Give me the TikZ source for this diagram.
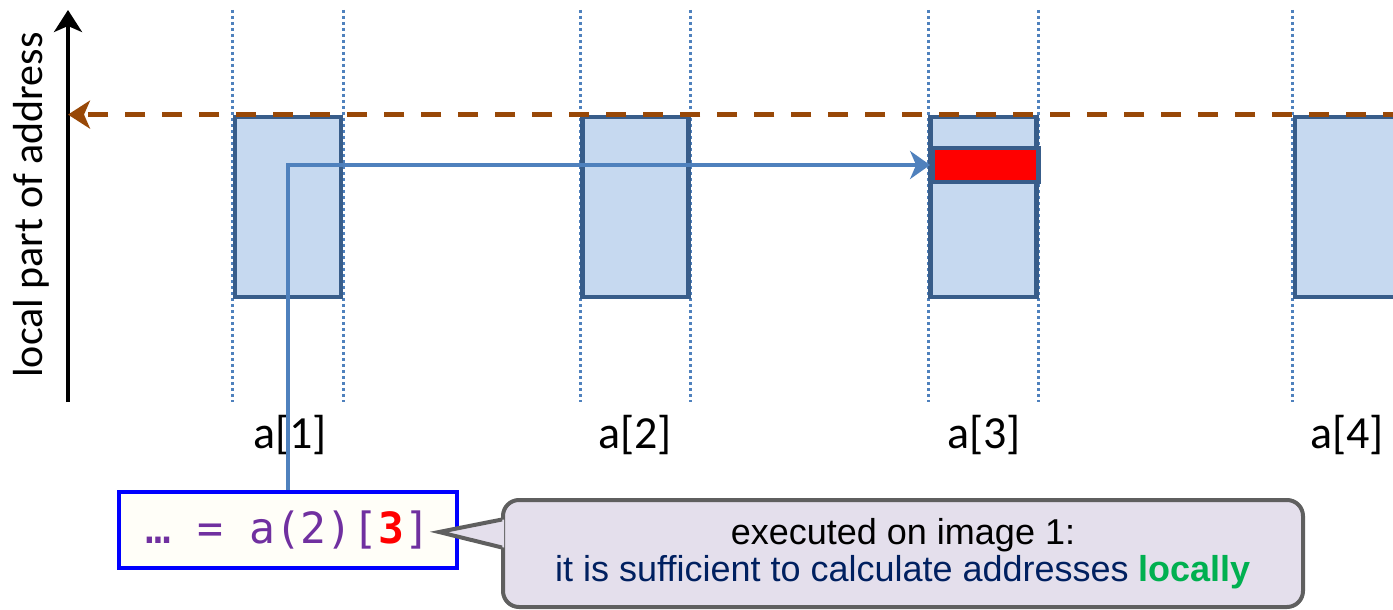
\documentclass[tikz,border=0pt]{standalone}
\usepackage{fontspec}
\setmainfont{Carlito}
\newfontfamily\codefont{DejaVu Sans Mono}
\newfontfamily\notefont{Liberation Sans}
\usepackage{xcolor}
\usepackage{tikz}
\usetikzlibrary{arrows.meta, positioning, calc, backgrounds}
\definecolor{cellfill}{RGB}{198, 217, 240}
\definecolor{cellborder}{RGB}{56, 93, 138}
\definecolor{linkblue}{RGB}{79, 129, 189}
\definecolor{levelbrown}{RGB}{152, 72, 7}
\definecolor{notefill}{RGB}{228, 223, 236}
\definecolor{notegray}{RGB}{95, 95, 95}
\definecolor{codepurple}{RGB}{112, 48, 160}
\definecolor{codebg}{RGB}{255, 254, 248}
\definecolor{navytext}{RGB}{0, 32, 96}
\definecolor{okgreen}{RGB}{0, 176, 80}

\begin{document}
\begin{tikzpicture}[x=0.5pt, y=-0.5pt]
    \tikzstyle{cell} = [rectangle, minimum width=53pt, minimum height=90pt, inner sep=0pt, draw=cellborder, line width=2.4pt, fill=cellfill]
    \tikzstyle{guide} = [linkblue, line width=1.5pt, dash pattern=on 1.5pt off 1.5pt]
    \tikzstyle{lbl} = [anchor=base, inner sep=0pt, font=\fontsize{23}{27}\selectfont]
    \tikzstyle{link} = [linkblue, line width=2pt, -{Stealth[length=10pt, width=14pt, inset=3pt]}]

    \useasboundingbox (0,0) rectangle (1393,610);
    \clip (0,0) rectangle (1393,610);

    \coordinate (top) at (0,10);
    \coordinate (bot) at (0,402);
    \coordinate (axbot) at (68,402);
    \coordinate (axtop) at (68,10);

    % one block of the array per image
    \node (img1) [cell] at (288,207) {};
    \node (img2) [cell] at (635.5,207) {};
    \node (img3) [cell] at (983.5,207) {};
    \node (img4) [cell] at (1348,207) {};
    \node (hit) [cell, minimum height=17pt, fill=red] at (985.5,165) {};

    \begin{scope}[on background layer]
        \draw [guide] (img1.north west |- top) -- (img1.south west |- bot);
        \draw [guide] (img1.north east |- top) -- (img1.south east |- bot);
        \draw [guide] (img2.north west |- top) -- (img2.south west |- bot);
        \draw [guide] (img2.north east |- top) -- (img2.south east |- bot);
        \draw [guide] (img3.north west |- top) -- (img3.south west |- bot);
        \draw [guide] (img3.north east |- top) -- (img3.south east |- bot);
        \draw [guide] (img4.north west |- top) -- (img4.south west |- bot);
        \draw [guide] (img4.north east |- top) -- (img4.south east |- bot);
    \end{scope}

    % axis
    \draw [black, line width=1.8pt, -{Stealth[length=11pt, width=14pt, inset=3pt]}] (axbot) -- (axtop);
    \node (axlbl) [rotate=90, anchor=base, inner sep=0pt, font=\fontsize{21}{25}\selectfont] at (42,205) {local part of address};
    \draw [levelbrown, line width=2.2pt, dash pattern=on 10pt off 8.5pt, -{Stealth[length=11pt, width=14pt, inset=3pt]}] (img4.north east) -- (img1.north -| axtop);

    \node (lbl1) [lbl] at (290,448) {a[1]};
    \node (lbl2) [lbl] at (635,448) {a[2]};
    \node (lbl3) [lbl] at (984,448) {a[3]};
    \node (lbl4) [lbl] at (1347,448) {a[4]};

    \node (code) [rectangle, minimum width=169pt, minimum height=38pt, draw=blue, line width=2pt, fill=codebg, text=codepurple, font=\codefont\fontsize{21.5}{25}\selectfont] at (288,530) {… = a(2)[{\bfseries\color{red}3}]};
    \draw [link] (code.north) |- (hit.west);

    \node (note) [rectangle, rounded corners=8pt, minimum width=400pt, minimum height=53.5pt, draw=notegray, line width=2pt, fill=notefill, align=center, font=\notefont\fontsize{18}{18.5}\selectfont] at (903,553.5) {executed on image 1:\\ \color{navytext}it is sufficient to calculate addresses \textbf{\color{okgreen}locally}};
    \coordinate (tip) at ($(code.east)+(-20,2)$);
    \fill [notefill] ($(note.west)+(3,-34)$) -- (tip) -- ($(note.west)+(3,-6)$) -- cycle;
    \draw [notegray, line width=2pt] ($(note.west)+(1,-34)$) -- (tip) -- ($(note.west)+(1,-6)$);
\end{tikzpicture}
\end{document}
